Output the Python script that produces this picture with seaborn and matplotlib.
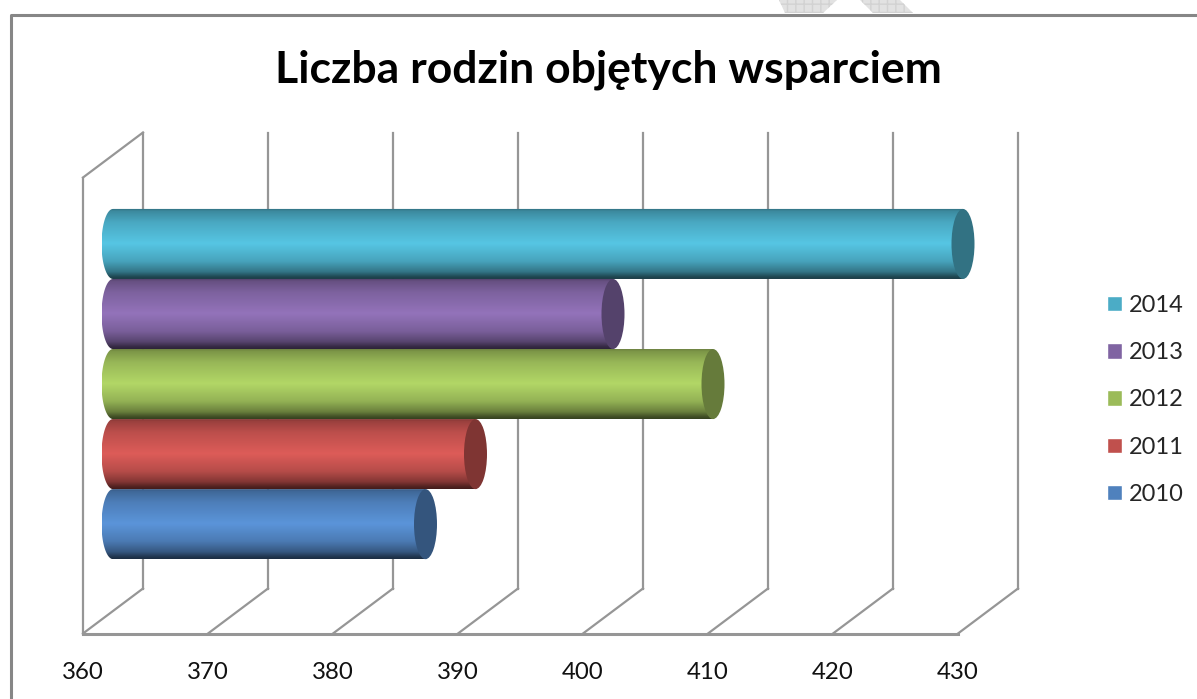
import numpy as np
import pandas as pd
import matplotlib
matplotlib.use("Agg")
import matplotlib.pyplot as plt
import seaborn as sns
from matplotlib.path import Path
from matplotlib.patches import Ellipse, Polygon
from matplotlib.transforms import ScaledTranslation, blended_transform_factory

years = ["2014", "2013", "2012", "2011", "2010"]
values = [428, 400, 408, 389, 385]
colors = ["#4BACC6", "#8064A2", "#9BBB59", "#C0504D", "#4F81BD"]
axis_ticks = [360, 370, 380, 390, 400, 410, 420, 430]
title = "Liczba rodzin objętych wsparciem"

W, H, DPI = 1197, 699, 100
GRID = "#969696"
sns.set_theme(style="white")
plt.rcParams["font.family"] = ["Lato", "DejaVu Sans"]

fig = plt.figure(figsize=(W / DPI, H / DPI), dpi=DPI, facecolor="white")
ax = fig.add_axes([113 / W, (H - 611) / H, 875 / W, 456 / H])

df = pd.DataFrame({"year": years, "value": values})
sns.barplot(data=df, y="year", x="value", hue="year", order=years, hue_order=years,
            palette=colors, dodge=False, width=1.0, orient="h", legend=True,
            saturation=1, ax=ax, zorder=2)
ax.set_xlabel("")
ax.set_ylabel("")
ax.set_yticks([])
for s in ax.spines.values():
    s.set_visible(False)

XMIN, XMAX = axis_ticks[0], axis_ticks[-1]
YBOT, YTOP = 5.24, -1.27
ax.set_xlim(XMIN, XMAX)
ax.set_ylim(YBOT, YTOP)


def px_off(dx, dy):
    return ScaledTranslation(dx / DPI, dy / DPI, fig.dpi_scale_trans)


# 3D wall and floor lines, drawn through the value axis with a depth offset
base = blended_transform_factory(ax.transData, ax.transAxes)
front = base + px_off(-30, -22.5)
back = base + px_off(30, 22.5)
lkw = dict(color=GRID, lw=1.6, clip_on=False, zorder=1, solid_capstyle="projecting")
for t in axis_ticks:
    ax.plot([t, t], [0, 1], transform=back, **lkw)
    p0 = front.transform((t, 0))
    p1 = back.transform((t, 0))
    ax.plot([p0[0], p1[0]], [p0[1], p1[1]], transform=None, **lkw)
ax.plot([XMIN, XMAX], [0, 0], transform=front, **{**lkw, "lw": 2.2})
ax.plot([XMIN, XMIN], [0, 1], transform=front, **lkw)
p0 = front.transform((XMIN, 1))
p1 = back.transform((XMIN, 1))
ax.plot([p0[0], p1[0]], [p0[1], p1[1]], transform=None, **lkw)

# cylinders: vertical shading clipped to a body with a rounded left end
stops_pos = [0.0, 0.04, 0.20, 0.5, 0.75, 0.90, 0.97, 1.0]
stops_mul = [0.62, 0.80, 0.98, 1.15, 0.95, 0.68, 0.42, 0.35]
shade = np.interp(np.linspace(0, 1, 140), stops_pos, stops_mul)
CAP_W = 23 / 12.5  # cap width in value units (12.5 px per unit)
theta = np.linspace(np.pi / 2, 3 * np.pi / 2, 40)
for i, (v, c) in enumerate(zip(values, colors)):
    rgb = np.array(matplotlib.colors.to_rgb(c))
    grad = np.clip(shade[:, None, None] * rgb[None, None, :], 0, 1)
    im = ax.imshow(grad, extent=(XMIN - CAP_W / 2, v, i + 0.5, i - 0.5), aspect="auto",
                   origin="upper", interpolation="bilinear", zorder=3 + i * 0.01)
    ax.patches[i].set_visible(False)
    verts = ([(v, i - 0.5)]
             + [(XMIN + CAP_W / 2 * np.cos(a), i - 0.5 * np.sin(a)) for a in theta]
             + [(v, i + 0.5), (v, i - 0.5)])
    im.set_clip_path(Path(verts), ax.transData)
    im.set_clip_box(fig.bbox)
    ax.add_patch(Ellipse((v, i), CAP_W, 1.0, facecolor=rgb * 0.66, edgecolor="none",
                         zorder=3.5 + i * 0.01, clip_on=False))
ax.set_xlim(XMIN, XMAX)
ax.set_ylim(YBOT, YTOP)

# tick labels sit on the front plane
ax.set_xticks(axis_ticks)
ax.set_xticklabels([str(t) for t in axis_ticks])
ax.tick_params(axis="x", length=0, pad=36.5, labelsize=17.3, labelcolor="#111111")
for lab in ax.get_xticklabels():
    lab.set_transform(lab.get_transform() + px_off(-30, 0))

ax.set_title(title, x=(608 - 113) / 875, y=1.0, pad=52, fontsize=32, fontweight="bold", color="black")

handles, labels = ax.get_legend_handles_labels()
ax.legend(handles, labels, loc="upper left", bbox_to_anchor=(1107 / W, (H - 295) / H),
          bbox_transform=fig.transFigure, frameon=False, fontsize=17, handlelength=0.635,
          handleheight=0.635, handletextpad=0.3, labelspacing=1.11, borderpad=0, borderaxespad=0)

# outer frame and clipped background shapes at the page edge
fig.add_artist(plt.Line2D([11 / W, 11 / W, 1], [0, (H - 15) / H, (H - 15) / H], color="#868686", lw=2.2))
for pts in ([(779, 0), (837, 0), (823, 13), (785, 13)], [(860, 0), (900, 0), (913, 13), (873, 13)]):
    fig.add_artist(Polygon([(x / W, (H - y) / H) for x, y in pts], closed=True, transform=fig.transFigure,
                           facecolor="#e2e2e2", edgecolor="#d2d2d2", linewidth=0, hatch="++"))

fig.savefig("out.png", dpi=DPI, facecolor="white")
